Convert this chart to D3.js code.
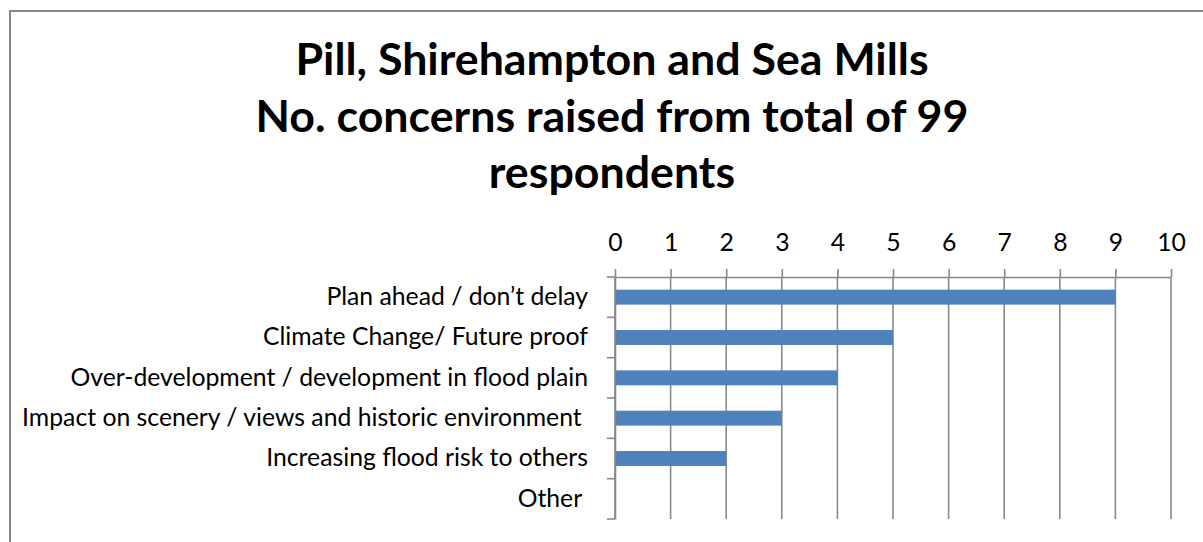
<!DOCTYPE html>
<html>
<head>
<meta charset="utf-8">
<script src="https://cdn.jsdelivr.net/npm/d3@7"></script>
<style>
  html, body { margin: 0; padding: 0; background: #fff; }
  svg { display: block; }
  text { font-family: Lato, "Open Sans", sans-serif; fill: #000; white-space: pre; }
</style>
</head>
<body>
<script>
// Concerns raised by respondents, top to bottom as shown
const categories = [
  "Plan ahead / don\u2019t delay",
  "Climate Change/ Future proof",
  "Over-development / development in flood plain",
  "Impact on scenery / views and historic environment ",
  "Increasing flood risk to others",
  "Other "
];
const counts = [9, 5, 4, 3, 2, 0];
const tickValues = [0, 1, 2, 3, 4, 5, 6, 7, 8, 9, 10];
const titleLines = [
  "Pill, Shirehampton and Sea Mills",
  "No. concerns raised from total of 99",
  "respondents"
];

const W = 1203, H = 542;
const plot = { left: 615, right: 1171, top: 277, bottom: 519 };
const gridColor = "#888888";
const barColor = "#4F81BD";

const svg = d3.select("body").append("svg")
  .attr("width", W).attr("height", H);

// chart area frame
svg.append("rect")
  .attr("x", 10).attr("y", 11)
  .attr("width", W + 20).attr("height", H + 20)
  .attr("fill", "#fff").attr("stroke", "#878787").attr("stroke-width", 2);

// title, scaled so the widest line fills its space
const title = svg.append("g").attr("font-weight", "bold");
const titleY = [75, 132, 188];
const tLines = title.selectAll("text").data(titleLines).join("text")
  .attr("x", 612).attr("y", (d, i) => titleY[i])
  .attr("text-anchor", "middle")
  .attr("font-size", 100)
  .text(d => d);
const t2w = tLines.nodes()[1].getComputedTextLength();
tLines.attr("font-size", 100 * 713 / t2w);

const x = d3.scaleLinear().domain([0, 10]).range([plot.left, plot.right]);
const y = d3.scaleBand().domain(categories).range([plot.top, plot.bottom]).padding(0);
const barH = y.bandwidth() * 0.37;

// vertical gridlines
svg.append("g").selectAll("line").data(tickValues).join("line")
  .attr("x1", d => x(d)).attr("x2", d => x(d))
  .attr("y1", plot.top).attr("y2", plot.bottom)
  .attr("stroke", gridColor).attr("stroke-width", 1.6);

// bars
svg.append("g").selectAll("rect").data(categories).join("rect")
  .attr("x", x(0))
  .attr("y", d => y(d) + (y.bandwidth() - barH) / 2)
  .attr("width", (d, i) => x(counts[i]) - x(0))
  .attr("height", barH)
  .attr("fill", barColor);

// label font size fitted to the longest category label
const probe = svg.append("text").attr("font-size", 100).text(categories[3].trim());
const labelSize = 100 * 560 / probe.node().getComputedTextLength();
probe.remove();

// value axis along the top
const xAxis = svg.append("g")
  .attr("transform", `translate(0,${plot.top})`)
  .call(d3.axisTop(x).tickValues(tickValues).tickFormat(d3.format("d"))
    .tickSizeInner(8).tickSizeOuter(0).tickPadding(18));
xAxis.selectAll("line, path").attr("stroke", gridColor).attr("stroke-width", 1.6);
xAxis.selectAll("text").attr("font-size", labelSize).attr("font-family", null).attr("fill", "#000");

// category axis
const yAxis = svg.append("g")
  .attr("transform", `translate(${plot.left},0)`)
  .call(d3.axisLeft(y).tickSize(0).tickPadding(27));
yAxis.select(".domain").attr("stroke", gridColor).attr("stroke-width", 1.6);
yAxis.selectAll("text").attr("font-size", labelSize).attr("font-family", null).attr("fill", "#000")
  .attr("xml:space", "preserve");

// boundary tick marks between categories
const bounds = categories.map(c => y(c)).concat([plot.bottom]);
yAxis.append("g").selectAll("line").data(bounds).join("line")
  .attr("x1", -8).attr("x2", 0)
  .attr("y1", d => d).attr("y2", d => d)
  .attr("stroke", gridColor).attr("stroke-width", 1.6);
</script>
</body>
</html>
